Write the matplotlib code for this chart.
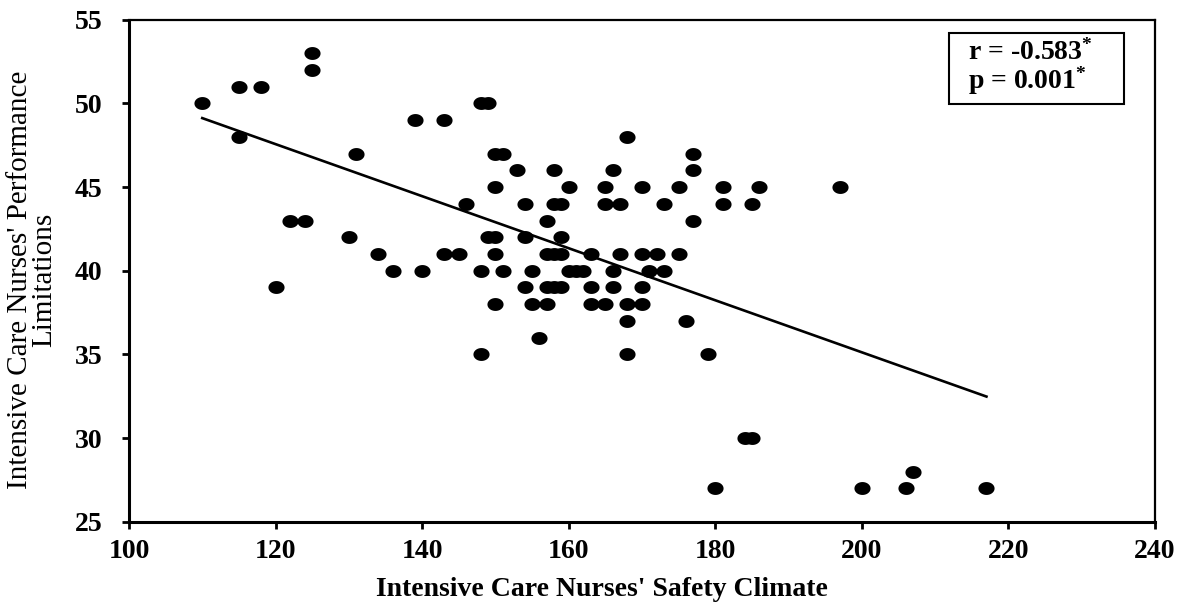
import numpy as np
import matplotlib
matplotlib.use('Agg')
import matplotlib.pyplot as plt
from matplotlib.path import Path
from matplotlib.patches import Rectangle

# safety climate score (x) and performance limitations score (y), one row per y value
safety = [180, 200, 206, 217,
          207,
          184, 185,
          148, 168, 179,
          156,
          168, 176,
          150, 155, 157, 163, 165, 168, 170,
          120, 154, 157, 158, 159, 163, 166, 170,
          136, 140, 148, 151, 155, 160, 161, 162, 166, 171, 173,
          134, 143, 145, 150, 157, 158, 159, 163, 167, 170, 172, 175,
          130, 149, 150, 154, 159,
          122, 124, 157, 177,
          146, 154, 158, 159, 165, 167, 173, 181, 185,
          150, 160, 165, 170, 175, 181, 186, 197,
          153, 158, 166, 177,
          131, 150, 151, 177,
          115, 168,
          139, 143,
          110, 148, 149,
          115, 118,
          125,
          125]
perf = [27, 27, 27, 27,
        28,
        30, 30,
        35, 35, 35,
        36,
        37, 37,
        38, 38, 38, 38, 38, 38, 38,
        39, 39, 39, 39, 39, 39, 39, 39,
        40, 40, 40, 40, 40, 40, 40, 40, 40, 40, 40,
        41, 41, 41, 41, 41, 41, 41, 41, 41, 41, 41, 41,
        42, 42, 42, 42, 42,
        43, 43, 43, 43,
        44, 44, 44, 44, 44, 44, 44, 44, 44,
        45, 45, 45, 45, 45, 45, 45, 45,
        46, 46, 46, 46,
        47, 47, 47, 47,
        48, 48,
        49, 49,
        50, 50, 50,
        51, 51,
        52,
        53]

x_ticks = [100, 120, 140, 160, 180, 200, 220, 240]
y_ticks = [25, 30, 35, 40, 45, 50, 55]

plt.rcParams['font.family'] = ['Liberation Serif', 'DejaVu Serif']
plt.rcParams['mathtext.fontset'] = 'custom'
plt.rcParams['mathtext.rm'] = 'Liberation Serif:bold'
plt.rcParams['mathtext.it'] = 'Liberation Serif:bold'
plt.rcParams['mathtext.bf'] = 'Liberation Serif:bold'

fig = plt.figure(figsize=(11.81, 6.02), dpi=100)
ax = fig.add_axes([0.1092, 0.1329, 0.978 - 0.1092, 0.9676 - 0.1329])

# flat ellipse marker like the original
t = np.linspace(0, 2 * np.pi, 60)
ell = Path(np.column_stack([1.25 * np.cos(t), np.sin(t)]), closed=True)

x = np.array(safety, dtype=float)
y = np.array(perf, dtype=float)
ax.scatter(x, y, s=135, marker=ell, color='black', linewidths=0, zorder=3)

# least squares line
b, a = np.polyfit(x, y, 1)
xl = np.array([x.min(), x.max()])
ax.plot(xl, a + b * xl, color='black', lw=1.9, zorder=2)

ax.set_xlim(100, 240)
ax.set_ylim(25, 55)
ax.set_xticks(x_ticks)
ax.set_yticks(y_ticks)
ax.tick_params(direction='out', length=5, width=2, labelsize=20)
ax.tick_params(axis='x', pad=7)
ax.tick_params(axis='y', pad=14)
for lab in ax.get_xticklabels() + ax.get_yticklabels():
    lab.set_fontweight('bold')

for s in ['left', 'bottom']:
    ax.spines[s].set_linewidth(2.2)
for s in ['top', 'right']:
    ax.spines[s].set_linewidth(1.6)

ax.set_xlabel("Intensive Care Nurses' Safety Climate", fontsize=20,
              fontweight='bold')
ax.xaxis.set_label_coords(0.461, -0.11)
ax.set_ylabel("Intensive Care Nurses' Performance\nLimitations", fontsize=21,
              linespacing=0.92)
ax.yaxis.set_label_coords(-0.07, 0.482)

# stats box
ax.add_patch(Rectangle((0.799, 0.832), 0.171, 0.141, transform=ax.transAxes,
                       fc='white', ec='black', lw=1.5, zorder=4))
ax.text(0.818, 0.903, "r = -0.583$^{*}$\np = 0.001$^{*}$", transform=ax.transAxes,
        fontsize=20, fontweight='bold', ha='left', va='center', linespacing=0.95,
        zorder=5)

plt.savefig('out.png', dpi=100)
plt.close()
